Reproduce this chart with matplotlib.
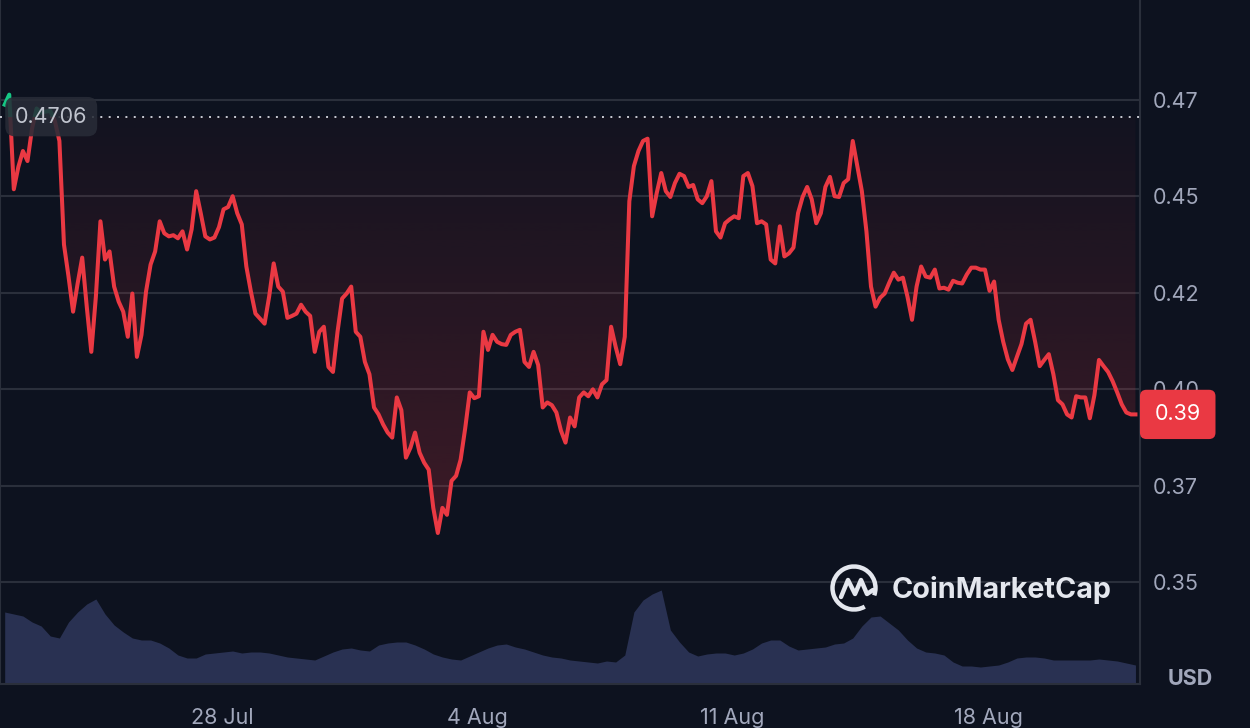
import matplotlib
matplotlib.use("Agg")
import matplotlib.pyplot as plt
import matplotlib.transforms as mtransforms
import numpy as np
import pandas as pd
from matplotlib.dates import date2num
from matplotlib.patches import Arc, Rectangle
from matplotlib.path import Path

plt.rcParams["font.family"] = ["Inter", "DejaVu Sans"]

# price, one reading every 3 hours
PRICE_START = "2025-07-22 01:00"
PRICE_STEP = "3h"
PRICES = [
    0.4737, 0.4763, 0.4518, 0.4576, 0.4617, 0.4591, 0.4675, 0.4727, 0.4716, 0.4719,
    0.4721, 0.4695, 0.4643, 0.4375, 0.4292, 0.4201, 0.4274, 0.4341, 0.4214, 0.4097,
    0.4240, 0.4435, 0.4336, 0.4357, 0.4266, 0.4227, 0.4201, 0.4136, 0.4248, 0.4084,
    0.4141, 0.4253, 0.4323, 0.4357, 0.4435, 0.4404, 0.4396, 0.4399, 0.4391, 0.4409,
    0.4362, 0.4414, 0.4513, 0.4456, 0.4396, 0.4388, 0.4393, 0.4420, 0.4466, 0.4472,
    0.4500, 0.4456, 0.4427, 0.4318, 0.4253, 0.4196, 0.4183, 0.4170, 0.4240, 0.4326,
    0.4266, 0.4253, 0.4185, 0.4190, 0.4196, 0.4219, 0.4201, 0.4190, 0.4097, 0.4149,
    0.4162, 0.4058, 0.4045, 0.4149, 0.4235, 0.4248, 0.4266, 0.4149, 0.4136, 0.4071,
    0.4039, 0.3953, 0.3935, 0.3909, 0.3888, 0.3875, 0.3979, 0.3946, 0.3823, 0.3849,
    0.3888, 0.3836, 0.3810, 0.3792, 0.3693, 0.3628, 0.3693, 0.3675, 0.3763, 0.3776,
    0.3818, 0.3899, 0.3992, 0.3977, 0.3982, 0.4149, 0.4102, 0.4141, 0.4123, 0.4117,
    0.4115, 0.4141, 0.4149, 0.4154, 0.4071, 0.4058, 0.4097, 0.4063, 0.3953, 0.3966,
    0.3959, 0.3940, 0.3893, 0.3862, 0.3927, 0.3904, 0.3979, 0.3992, 0.3982, 0.4000,
    0.3979, 0.4013, 0.4024, 0.4162, 0.4110, 0.4065, 0.4136, 0.4487, 0.4578, 0.4617,
    0.4643, 0.4649, 0.4448, 0.4508, 0.4560, 0.4513, 0.4498, 0.4534, 0.4558, 0.4552,
    0.4524, 0.4529, 0.4492, 0.4482, 0.4500, 0.4539, 0.4409, 0.4393, 0.4430, 0.4440,
    0.4448, 0.4443, 0.4552, 0.4560, 0.4526, 0.4430, 0.4435, 0.4427, 0.4336, 0.4326,
    0.4422, 0.4344, 0.4352, 0.4367, 0.4456, 0.4498, 0.4524, 0.4492, 0.4430, 0.4456,
    0.4524, 0.4550, 0.4500, 0.4498, 0.4534, 0.4544, 0.4643, 0.4578, 0.4513, 0.4409,
    0.4266, 0.4214, 0.4237, 0.4248, 0.4276, 0.4302, 0.4284, 0.4289, 0.4240, 0.4180,
    0.4266, 0.4318, 0.4292, 0.4289, 0.4310, 0.4261, 0.4263, 0.4258, 0.4281, 0.4276,
    0.4274, 0.4297, 0.4315, 0.4315, 0.4310, 0.4310, 0.4255, 0.4279, 0.4180, 0.4123,
    0.4078, 0.4050, 0.4084, 0.4117, 0.4170, 0.4180, 0.4123, 0.4060, 0.4076, 0.4091,
    0.4039, 0.3972, 0.3961, 0.3935, 0.3927, 0.3982, 0.3979, 0.3979, 0.3925, 0.3985,
    0.4076, 0.4060, 0.4045, 0.4021, 0.3992, 0.3961, 0.3940, 0.3935, 0.3935,
]

# volume (millions USD), one reading every 6 hours
VOLUME_START = "2025-07-22 01:00"
VOLUME_STEP = "6h"
VOLUME_M = [
    72, 70, 68, 62, 58, 48, 46, 62, 72, 80,
    85, 70, 59, 52, 46, 44, 44, 41, 36, 29,
    26, 26, 30, 31, 32, 33, 31, 32, 32, 31,
    29, 27, 26, 25, 24, 28, 32, 35, 36, 34,
    33, 39, 41, 42, 42, 39, 35, 30, 27, 25,
    24, 28, 32, 36, 39, 40, 37, 35, 32, 29,
    27, 26, 24, 23, 22, 21, 23, 22, 29, 72,
    84, 90, 94, 54, 42, 32, 28, 30, 31, 31,
    29, 31, 35, 41, 44, 44, 38, 34, 35, 36,
    37, 40, 41, 46, 58, 67, 68, 61, 54, 44,
    36, 32, 31, 29, 22, 18, 18, 17, 18, 19,
    22, 26, 27, 27, 26, 24, 24, 24, 24, 24,
    25, 24, 23, 21, 19,
]
VOLUME_AXIS_TOP = 684  # volume share of the panel is small, like the original

OPEN_PRICE = 0.4706
OPEN_LABEL = "0.4706"
LAST_LABEL = "0.39"

Y_TICKS = [0.35, 0.375, 0.40, 0.425, 0.45, 0.475]
Y_TICK_LABELS = ["0.35", "0.37", "0.40", "0.42", "0.45", "0.47"]
X_TICKS = ["2025-07-28", "2025-08-04", "2025-08-11", "2025-08-18"]
X_TICK_LABELS = ["28 Jul", "4 Aug", "11 Aug", "18 Aug"]

VIEW_START = pd.Timestamp("2025-07-21 21:55")
VIEW_END = pd.Timestamp("2025-08-22 04:00")
Y_RANGE = (0.3237, 0.5008)

BG = "#0d121f"
GRID = "#2a2f3b"
RED = "#ea3943"
GREEN = "#16c784"
VOL = "#293152"
TEXT = "#a1a7bb"


def main() -> None:
    times = pd.date_range(PRICE_START, periods=len(PRICES), freq=PRICE_STEP)
    vtimes = pd.date_range(VOLUME_START, periods=len(VOLUME_M), freq=VOLUME_STEP)
    prices = np.array(PRICES)
    tn = date2num(times)

    fig = plt.figure(figsize=(12.5, 7.28), dpi=100, facecolor=BG)
    pos = [0, 44 / 728, 1140 / 1250, 684 / 728]

    vax = fig.add_axes(pos)
    vax.set_facecolor(BG)
    vax.fill_between(vtimes, 0, VOLUME_M, color=VOL, lw=0)
    vax.set_xlim(VIEW_START, VIEW_END)
    vax.set_ylim(0, VOLUME_AXIS_TOP)
    vax.axis("off")

    ax = fig.add_axes(pos)
    ax.set_facecolor("none")
    ax.set_xlim(VIEW_START, VIEW_END)
    ax.set_ylim(*Y_RANGE)

    # gradient between the line and the opening price
    lower = np.minimum(prices, OPEN_PRICE)
    verts = [(tn[0], OPEN_PRICE)] + list(zip(tn, lower)) + [(tn[-1], OPEN_PRICE), (tn[0], OPEN_PRICE)]
    clip = Path(verts, closed=True)
    rgba = np.zeros((256, 1, 4))
    rgba[..., :3] = matplotlib.colors.to_rgb(RED)
    rgba[..., 3] = np.linspace(0.22, 0.03, 256)[:, None]
    im = ax.imshow(rgba, extent=[tn[0], tn[-1], prices.min(), OPEN_PRICE],
                   origin="lower", aspect="auto", zorder=2, interpolation="bilinear")
    im.set_clip_path(clip, ax.transData)
    ax.fill_between(times, OPEN_PRICE, np.maximum(prices, OPEN_PRICE), color=GREEN, alpha=0.12, lw=0, zorder=2)
    ax.set_xlim(VIEW_START, VIEW_END)
    ax.set_ylim(*Y_RANGE)

    x0, x1 = date2num(VIEW_START), date2num(VIEW_END)
    red_line, = ax.plot(times, prices, color=RED, lw=2.9, zorder=4, solid_joinstyle="round")
    red_line.set_clip_path(Rectangle((x0, Y_RANGE[0]), x1 - x0, OPEN_PRICE - Y_RANGE[0], transform=ax.transData))
    green_line, = ax.plot(times, prices, color=GREEN, lw=2.9, zorder=4, solid_joinstyle="round")
    green_line.set_clip_path(Rectangle((x0, OPEN_PRICE), x1 - x0, Y_RANGE[1] - OPEN_PRICE, transform=ax.transData))

    ax.axhline(OPEN_PRICE, color="#c9ccd4", lw=1.4, ls=(0, (1, 3.3)), zorder=3)

    ax.set_yticks(Y_TICKS, labels=Y_TICK_LABELS)
    ax.set_xticks(pd.to_datetime(X_TICKS), labels=X_TICK_LABELS)
    ax.yaxis.tick_right()
    ax.tick_params(axis="y", length=0, pad=9, labelsize=15.5, labelcolor=TEXT)
    ax.tick_params(axis="x", length=0, pad=17, labelsize=15.5, labelcolor=TEXT)
    ax.yaxis.grid(True, color=GRID, lw=1.5, zorder=1)
    ax.xaxis.grid(False)
    ax.set_axisbelow(True)
    for side in ("left", "right", "bottom"):
        ax.spines[side].set_color(GRID)
        ax.spines[side].set_linewidth(1.5)
    ax.spines["top"].set_visible(False)

    blend = mtransforms.blended_transform_factory(ax.transAxes, ax.transData)
    ax.text(15 / 1140, OPEN_PRICE, OPEN_LABEL, transform=blend, ha="left", va="center",
            fontsize=15.5, color="#c0c4ce", zorder=6,
            bbox=dict(boxstyle="round,pad=0.45,rounding_size=0.45", fc="#282c37", ec="none", alpha=0.88))
    ax.text(1 + 14.6 / 1140, prices[-1], LAST_LABEL, transform=blend, ha="left", va="center",
            fontsize=15.5, color="white", zorder=7, clip_on=False,
            bbox=dict(boxstyle="round,pad=0.68,rounding_size=0.3", fc=RED, ec="none"))

    fig.text(1190 / 1250, 1 - 679 / 728, "USD", ha="center", va="center",
             fontsize=15.5, fontweight="bold", color=TEXT)

    # watermark, drawn in pixel space
    deco = fig.add_axes([0, 0, 1, 1])
    deco.set_xlim(0, 1250)
    deco.set_ylim(728, 0)
    deco.axis("off")
    deco.patch.set_alpha(0)
    mark = "#e4e7ee"
    deco.add_patch(Arc((854, 588), 43, 43, theta1=60, theta2=380, lw=3.2, color=mark))
    deco.plot([841, 848, 855, 861, 867, 873], [597, 580, 594, 580, 594, 590],
              color=mark, lw=3.2, solid_joinstyle="round", solid_capstyle="round")
    deco.text(892, 590, "CoinMarketCap", ha="left", va="center", fontsize=20.7,
              fontweight="bold", color=mark)

    fig.savefig("out.png", dpi=100, facecolor=BG)


if __name__ == "__main__":
    main()
